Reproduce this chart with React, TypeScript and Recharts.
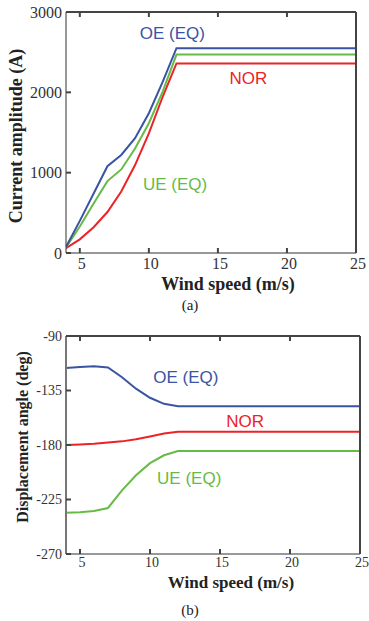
import React from 'react';
import { LineChart, Line, XAxis, YAxis, ReferenceDot } from 'recharts';

const windSpeed = [4, 5, 6, 7, 8, 9, 10, 11, 12, 25];
const oeCurrent = [75, 400, 740, 1080, 1220, 1430, 1740, 2130, 2550, 2550];
const ueCurrent = [70, 330, 615, 895, 1040, 1300, 1615, 2010, 2470, 2470];
const norCurrent = [60, 170, 320, 510, 765, 1095, 1490, 1945, 2360, 2360];

const oeAngle = [-116.5, -115.5, -115, -116, -124, -133.5, -141, -146, -148, -148];
const norAngle = [-180, -179.5, -179, -178, -177, -175.3, -173, -170.5, -169, -169];
const ueAngle = [-236, -235.5, -234.5, -232, -217.5, -205, -195, -188.5, -185, -185];

const xTicks = [5, 10, 15, 20, 25];
const currentTicks = [0, 1000, 2000, 3000];
const angleTicks = [-270, -225, -180, -135, -90];

const BLUE = '#3a54a4';
const GREEN = '#66bb46';
const RED = '#ec2227';
const AXIS = '#333';
const FRAME = '#444';

const currentData = windSpeed.map((w, i) => ({ w, oe: oeCurrent[i], ue: ueCurrent[i], nor: norCurrent[i] }));
const angleData = windSpeed.map((w, i) => ({ w, oe: oeAngle[i], ue: ueAngle[i], nor: norAngle[i] }));

const serif = '"Liberation Serif", "DejaVu Serif", serif';
const sans = '"Liberation Sans", Arial, sans-serif';

const TICK = 5;

// tick coords arrive offset by default tickSize + tickMargin (6 + 2); draw ticks inward
const bottomTick = (fontSize: number, gap: number) => (p: any) => (
  <g>
    <line x1={p.x} x2={p.x} y1={p.y - 8} y2={p.y - 8 - TICK} stroke={FRAME} strokeWidth={2} />
    <text x={p.x + 2} y={p.y - 8 + gap} textAnchor="middle" fill={AXIS} fontSize={fontSize} fontFamily={serif}>
      {p.payload.value}
    </text>
  </g>
);
const leftTick = (fontSize: number) => (p: any) => (
  <g>
    <line x1={p.x + 8} x2={p.x + 8 + TICK} y1={p.y} y2={p.y} stroke={FRAME} strokeWidth={2} />
    <text x={p.x + 8 - 4} y={p.y} dy="0.35em" textAnchor="end" fill={AXIS} fontSize={fontSize} fontFamily={serif}>
      {p.payload.value}
    </text>
  </g>
);
const topTick = (p: any) => <line x1={p.x} x2={p.x} y1={p.y + 8} y2={p.y + 8 + TICK} stroke={FRAME} strokeWidth={2} />;
const rightTick = (p: any) => <line x1={p.x - 8} x2={p.x - 8 - TICK} y1={p.y} y2={p.y} stroke={FRAME} strokeWidth={2} />;

const tagLabel = (text: string, color: string) => ({
  value: text,
  position: 'center' as const,
  fill: color,
  fontSize: 17,
  fontFamily: sans,
});

const xTitle = (top: number, cx: number, size: number): React.CSSProperties => ({
  position: 'absolute', top, left: cx - 110, width: 220, textAlign: 'center',
  fontFamily: serif, fontWeight: 'bold', fontSize: size, lineHeight: `${size}px`, color: '#222', whiteSpace: 'nowrap',
});
const yTitle = (cx: number, cy: number, size: number): React.CSSProperties => ({
  position: 'absolute', left: cx, top: cy, transform: 'translate(-50%, -50%) rotate(-90deg)',
  fontFamily: serif, fontWeight: 'bold', fontSize: size, lineHeight: `${size}px`, color: '#222', whiteSpace: 'nowrap',
});
const caption = (top: number): React.CSSProperties => ({
  position: 'absolute', top, left: 190 - 30, width: 60, textAlign: 'center',
  fontFamily: serif, fontSize: 15, lineHeight: '17px', color: '#222',
});

const App: React.FC = () => {
  return (
    <div style={{ position: 'absolute', left: 0, top: 0, width: 369, height: 621, background: '#fff' }}>
      <div style={{ position: 'absolute', left: 0, top: 0 }}>
        <LineChart width={369} height={310} data={currentData} margin={{ top: 10, right: 11, bottom: 0, left: 0 }}>
          <XAxis dataKey="w" type="number" domain={[4, 25]} ticks={xTicks} allowDataOverflow height={57} tickLine={false} stroke={AXIS} tick={bottomTick(16, 16)} />
          <XAxis xAxisId="top" orientation="top" dataKey="w" type="number" domain={[4, 25]} ticks={xTicks} height={2} tickLine={false} tick={topTick} stroke={FRAME} strokeWidth={2} />
          <YAxis type="number" domain={[0, 3000]} ticks={currentTicks} width={66} tickLine={false} stroke={AXIS} tick={leftTick(16)} />
          <YAxis yAxisId="right" orientation="right" type="number" domain={[0, 3000]} ticks={currentTicks} width={2} tickLine={false} tick={rightTick} stroke={FRAME} strokeWidth={2} />
          <Line dataKey="nor" stroke={RED} strokeWidth={2} dot={false} isAnimationActive={false} />
          <Line dataKey="ue" stroke={GREEN} strokeWidth={2} dot={false} isAnimationActive={false} />
          <Line dataKey="oe" stroke={BLUE} strokeWidth={2} dot={false} isAnimationActive={false} />
          <ReferenceDot x={11.7} y={2740} r={0} label={tagLabel('OE (EQ)', BLUE)} />
          <ReferenceDot x={17.2} y={2180} r={0} label={tagLabel('NOR', RED)} />
          <ReferenceDot x={11.9} y={860} r={0} label={tagLabel('UE (EQ)', GREEN)} />
        </LineChart>
      </div>
      <div style={xTitle(275, 228, 18)}>Wind speed (m/s)</div>
      <div style={yTitle(16, 136, 18)}>Current amplitude (A)</div>
      <div style={caption(297)}>(a)</div>

      <div style={{ position: 'absolute', left: 0, top: 310 }}>
        <LineChart width={369} height={311} data={angleData} margin={{ top: 24, right: 7, bottom: 0, left: 0 }}>
          <XAxis dataKey="w" type="number" domain={[4, 25]} ticks={xTicks} allowDataOverflow height={67} tickLine={false} stroke={AXIS} tick={bottomTick(14, 13)} />
          <XAxis xAxisId="top" orientation="top" dataKey="w" type="number" domain={[4, 25]} ticks={xTicks} height={2} tickLine={false} tick={topTick} stroke={FRAME} strokeWidth={2} />
          <YAxis type="number" domain={[-270, -90]} ticks={angleTicks} width={66} tickLine={false} stroke="#777" strokeWidth={2} tick={leftTick(14)} />
          <YAxis yAxisId="right" orientation="right" type="number" domain={[-270, -90]} ticks={angleTicks} width={2} tickLine={false} tick={rightTick} stroke={FRAME} strokeWidth={2} />
          <Line dataKey="oe" stroke={BLUE} strokeWidth={2} dot={false} isAnimationActive={false} />
          <Line dataKey="nor" stroke={RED} strokeWidth={2} dot={false} isAnimationActive={false} />
          <Line dataKey="ue" stroke={GREEN} strokeWidth={2} dot={false} isAnimationActive={false} />
          <ReferenceDot x={12.56} y={-124} r={0} label={tagLabel('OE (EQ)', BLUE)} />
          <ReferenceDot x={16.8} y={-160.4} r={0} label={tagLabel('NOR', RED)} />
          <ReferenceDot x={12.8} y={-207.5} r={0} label={tagLabel('UE (EQ)', GREEN)} />
        </LineChart>
      </div>
      <div style={xTitle(574, 231, 17)}>Wind speed (m/s)</div>
      <div style={yTitle(23, 437, 16)}>Displacement angle (deg)</div>
      <div style={caption(602)}>(b)</div>
    </div>
  );
};

export default App;
